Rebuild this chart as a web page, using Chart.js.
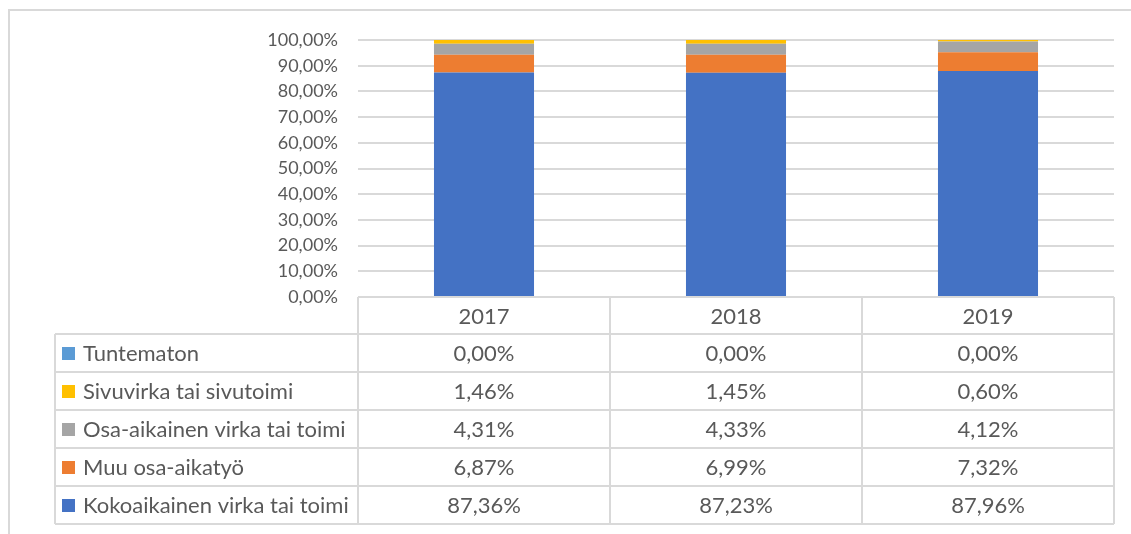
<!DOCTYPE html>
<html lang="fi">
<head>
  <meta charset="UTF-8">
  <title>Palvelussuhteen tyyppi</title>
  <script src="https://cdn.jsdelivr.net/npm/chart.js"></script>
  <style>
    html, body {
      margin: 0;
      padding: 0;
      background: #fff;
    }
    #wrap {
      width: 1131px;
      height: 534px;
    }
  </style>
</head>
<body>
  <div id="wrap"><canvas id="kaavio"></canvas></div>
  <script>
    // vuodet ja sarjat (prosentteina)
    const vuodet = ['2017', '2018', '2019'];
    const kokoaikainen = [87.36, 87.23, 87.96];
    const muuOsaAika = [6.87, 6.99, 7.32];
    const osaAikainen = [4.31, 4.33, 4.12];
    const sivuvirka = [1.46, 1.45, 0.60];
    const tuntematon = [0.00, 0.00, 0.00];

    const tekstiVari = '#595959';
    const viivaVari = '#d9d9d9';
    const fontti = 'Lato, "Open Sans", sans-serif';

    function muotoile(v) {
      return v.toFixed(2).replace('.', ',') + '%';
    }

    const sarjat = [
      { label: 'Kokoaikainen virka tai toimi', data: kokoaikainen, backgroundColor: '#4472C4' },
      { label: 'Muu osa-aikatyö', data: muuOsaAika, backgroundColor: '#ED7D31' },
      { label: 'Osa-aikainen virka tai toimi', data: osaAikainen, backgroundColor: '#A5A5A5' },
      { label: 'Sivuvirka tai sivutoimi', data: sivuvirka, backgroundColor: '#FFC000' },
      { label: 'Tuntematon', data: tuntematon, backgroundColor: '#5B9BD5' }
    ];

    // kaavion kehys (vain ylä- ja vasen reuna näkyvät)
    const kehys = {
      id: 'kehys',
      beforeDraw(chart) {
        const ctx = chart.ctx;
        ctx.save();
        ctx.strokeStyle = viivaVari;
        ctx.lineWidth = 2;
        ctx.beginPath();
        ctx.moveTo(9, chart.height);
        ctx.lineTo(9, 10);
        ctx.lineTo(chart.width, 10);
        ctx.stroke();
        ctx.restore();
      }
    };

    // datataulukko kaavion alle
    const taulukko = {
      id: 'taulukko',
      afterDraw(chart) {
        const ctx = chart.ctx;
        const x = chart.scales.x;
        const ala = chart.chartArea;
        const leveys = (ala.right - ala.left) / vuodet.length;
        const otsikkoKorkeus = 37;
        const riviKorkeus = 38;
        const vasen = 55;
        const ylaReuna = ala.bottom;
        const rivit = sarjat.slice().reverse();
        const ala2 = ylaReuna + otsikkoKorkeus + rivit.length * riviKorkeus;

        ctx.save();
        ctx.strokeStyle = viivaVari;
        ctx.lineWidth = 2;
        ctx.beginPath();
        for (let i = 0; i <= vuodet.length; i++) {
          const px = Math.round(ala.left + i * leveys);
          ctx.moveTo(px, ylaReuna);
          ctx.lineTo(px, ala2);
        }
        ctx.moveTo(vasen, ylaReuna + otsikkoKorkeus);
        ctx.lineTo(vasen, ala2);
        ctx.moveTo(ala.left, ylaReuna);
        ctx.lineTo(ala.right, ylaReuna);
        for (let r = 0; r <= rivit.length; r++) {
          const py = Math.round(ylaReuna + otsikkoKorkeus + r * riviKorkeus);
          ctx.moveTo(vasen, py);
          ctx.lineTo(ala.right, py);
        }
        ctx.stroke();

        ctx.fillStyle = tekstiVari;
        ctx.font = '22px ' + fontti;
        ctx.textBaseline = 'middle';
        ctx.textAlign = 'center';
        vuodet.forEach((v, i) => {
          ctx.fillText(v, x.getPixelForValue(i), ylaReuna + otsikkoKorkeus / 2 + 1);
        });

        rivit.forEach((s, r) => {
          const keski = ylaReuna + otsikkoKorkeus + r * riviKorkeus + riviKorkeus / 2 + 1;
          ctx.fillStyle = s.backgroundColor;
          ctx.fillRect(62, keski - 7, 13, 13);
          ctx.fillStyle = tekstiVari;
          ctx.textAlign = 'left';
          ctx.fillText(s.label, 83, keski);
          ctx.textAlign = 'center';
          s.data.forEach((v, i) => {
            ctx.fillText(muotoile(v), x.getPixelForValue(i), keski);
          });
        });
        ctx.restore();
      }
    };

    new Chart(document.getElementById('kaavio'), {
      type: 'bar',
      data: {
        labels: vuodet,
        datasets: sarjat.map(s => Object.assign({ borderWidth: 0 }, s))
      },
      options: {
        responsive: true,
        maintainAspectRatio: false,
        animation: false,
        layout: {
          padding: { left: 0, top: 40, right: 17, bottom: 237 }
        },
        datasets: {
          bar: { categoryPercentage: 1, barPercentage: 0.397 }
        },
        plugins: {
          legend: { display: false },
          tooltip: { enabled: false }
        },
        scales: {
          x: {
            stacked: true,
            display: false
          },
          y: {
            stacked: true,
            min: 0,
            max: 100,
            afterFit(scale) { scale.width = 358; },
            border: { display: false },
            grid: { color: viivaVari, lineWidth: 2, drawTicks: false },
            ticks: {
              stepSize: 10,
              padding: 20,
              color: tekstiVari,
              font: { family: fontti, size: 18 },
              callback: v => muotoile(v)
            }
          }
        }
      },
      plugins: [kehys, taulukko]
    });
  </script>
</body>
</html>
